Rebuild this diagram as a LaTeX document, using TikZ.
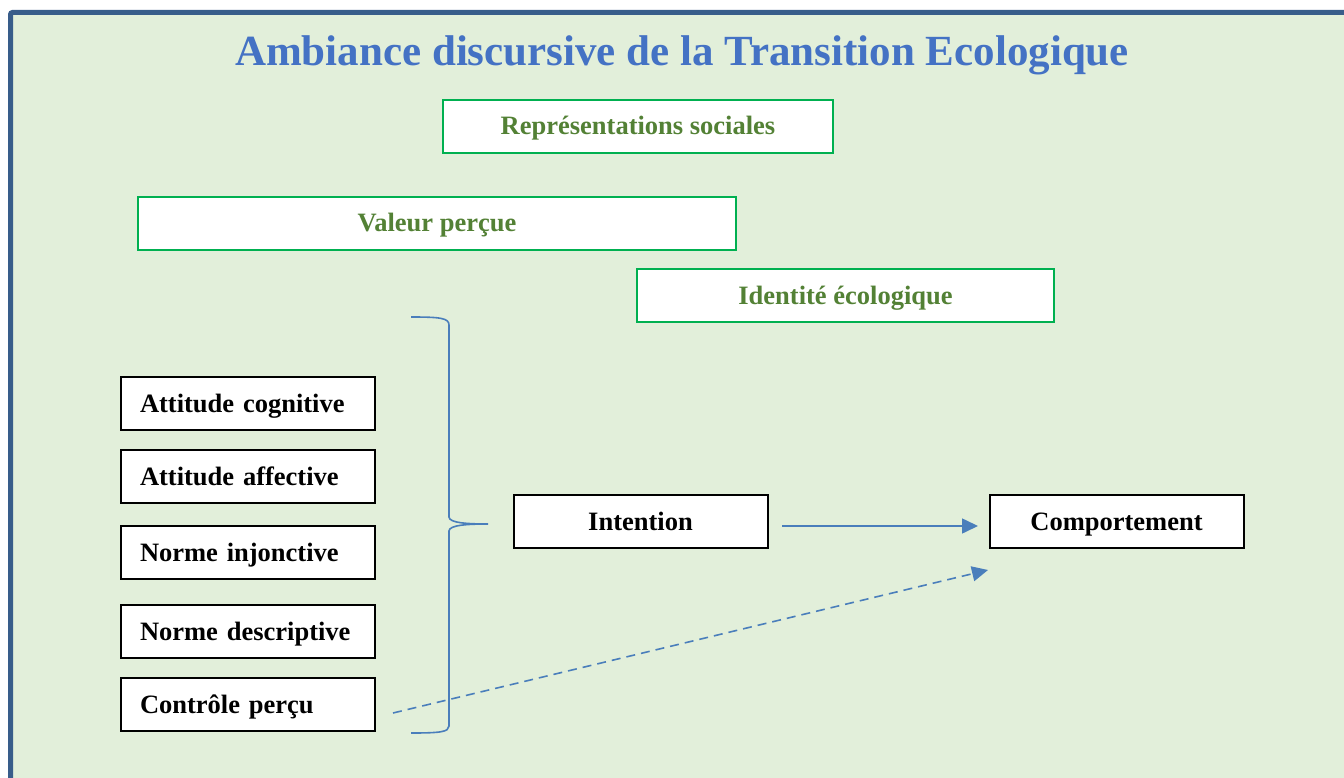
\documentclass[tikz,border=0pt]{standalone}
\usepackage{fontspec}
\setmainfont{Liberation Serif}
\usetikzlibrary{arrows.meta}
\definecolor{bgreen}{HTML}{E2EFDA}
\definecolor{frameblue}{HTML}{385D8A}
\definecolor{titleblue}{HTML}{4472C4}
\definecolor{linkblue}{HTML}{4A7EBB}
\definecolor{boxgreen}{HTML}{00B050}
\definecolor{txtgreen}{HTML}{538135}
\tikzset{
  greenbox/.style={draw=boxgreen, line width=2.2pt, fill=white, text=txtgreen,
    font=\fontsize{26.5}{30}\selectfont\bfseries, minimum height=53pt, inner sep=0pt,
    text height=18pt, text depth=1pt},
  blackbox/.style={draw=black, line width=2pt, fill=white, text=black,
    font=\fontsize{26.5}{30}\selectfont\bfseries, minimum height=53pt, minimum width=254pt, inner sep=0pt,
    text height=18pt, text depth=1pt},
  leftbox/.style={blackbox, text width=216pt, align=left, inner xsep=19pt},
  link/.style={draw=linkblue, line width=1.6pt},
  tip/.style={-{Triangle[length=16pt,width=15pt]}}
}
\begin{document}
\begin{tikzpicture}[x=1pt,y=-1pt]
\useasboundingbox (0,0) rectangle (1344,778);
\fill[white] (0,0) rectangle (1344,778);
\fill[bgreen] (10.5,12.5) rectangle (1344,778);
\draw[frameblue, line width=5pt, rounded corners=2pt] (10.5,780) -- (10.5,12.5) -- (1346,12.5);
\node[text=titleblue, font=\fontsize{43}{47}\selectfont\bfseries, anchor=base] (title) at (682,66) {Ambiance discursive de la Transition Ecologique};

\node[greenbox, minimum width=390pt] (rs) at (638,126.5) {Représentations sociales};
\node[greenbox, minimum width=598pt] (vp) at (437,223.5) {Valeur perçue};
\node[greenbox, minimum width=417pt] (ie) at (845.5,295.5) {Identité écologique};

\node[leftbox] (ac) at (248,403.5) {Attitude cognitive};
\node[leftbox] (aa) at (248,476.5) {Attitude affective};
\node[leftbox] (ni) at (248,552.5) {Norme injonctive};
\node[leftbox] (nd) at (248,631.5) {Norme descriptive};
\node[leftbox] (cp) at (248,704.5) {Contrôle perçu};

\node[blackbox] (int) at (640.5,521.5) {Intention};
\node[blackbox] (comp) at (1116.5,521.5) {Comportement};

\coordinate (btop) at (411,317);
\coordinate (btip) at (488,524);
\coordinate (bbot) at (411,733);
\draw[link] (btop) .. controls (440,317) and (449,318) .. (449,325) -- (449,517)
  .. controls (449,523) and (468,524) .. (btip)
  .. controls (468,524) and (449,525) .. (449,531) -- (449,726)
  .. controls (449,732) and (440,733) .. (bbot);

\coordinate (a1) at (782,526);
\coordinate (a2) at (978,526);
\draw[link, tip] (a1) -- (a2);
\coordinate (d1) at (393,713);
\coordinate (d2) at (988,570);
\draw[link, tip, dash pattern=on 9pt off 6pt] (d1) -- (d2);
\end{tikzpicture}
\end{document}
